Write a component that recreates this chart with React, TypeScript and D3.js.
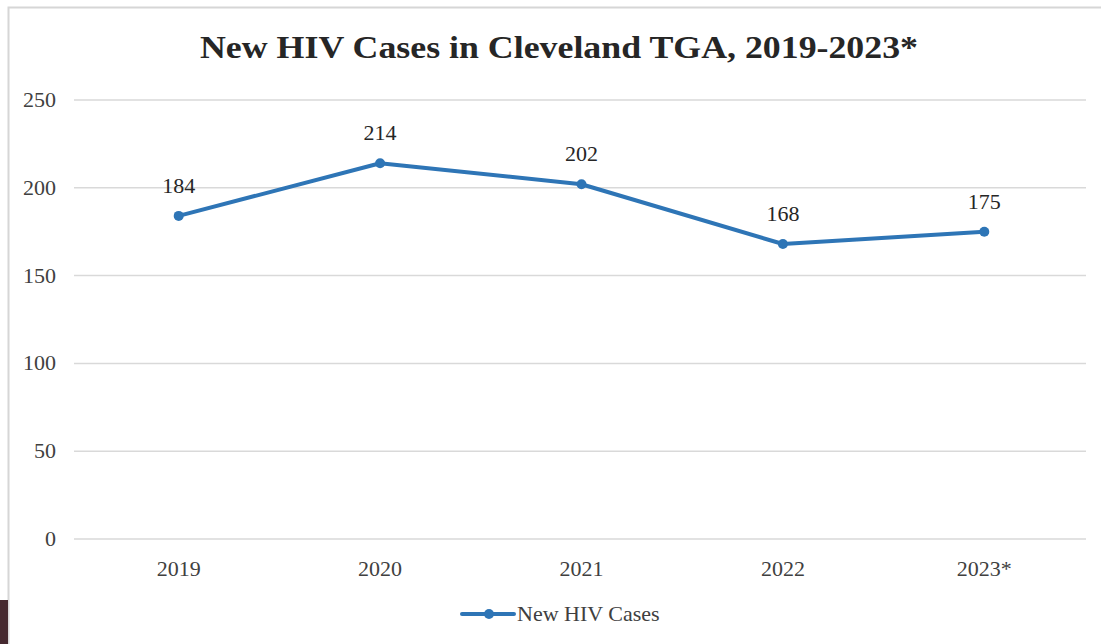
import { useEffect, useRef } from "react";
import * as d3 from "d3";

const years = ["2019", "2020", "2021", "2022", "2023*"];
const cases = [184, 214, 202, 168, 175];
const yTicks = [0, 50, 100, 150, 200, 250];

const W = 1101;
const H = 644;
const blue = "#2e75b6";
const serif = "'Liberation Serif', 'Times New Roman', serif";

function App() {
    const ref = useRef<SVGSVGElement>(null);

    useEffect(() => {
        const svg = d3.select(ref.current);
        svg.selectAll("*").remove();

        // background + box
        svg.append("rect").attr("width", W).attr("height", H).attr("fill", "#fff");
        svg.append("rect")
            .attr("x", 8.5).attr("y", 7.5)
            .attr("width", W + 10).attr("height", H + 10)
            .attr("fill", "#fff")
            .attr("stroke", "#d6d6d6").attr("stroke-width", 2);
        svg.append("rect").attr("x", 0).attr("y", 600).attr("width", 8).attr("height", 44).attr("fill", "#45292f");

        const x = d3.scaleBand().domain(years).range([78, 1085]);
        const y = d3.scaleLinear().domain([0, 250]).range([539, 100]);

        // title
        svg.append("text")
            .attr("x", 559).attr("y", 58)
            .attr("text-anchor", "middle")
            .attr("font-family", serif).attr("font-weight", "bold")
            .attr("font-size", 31).attr("fill", "#262626")
            .attr("textLength", 718).attr("lengthAdjust", "spacingAndGlyphs")
            .text("New HIV  Cases in Cleveland TGA, 2019-2023*");

        // grid
        svg.append("g").selectAll("line").data(yTicks).enter().append("line")
            .attr("x1", 74).attr("x2", 1086)
            .attr("y1", (d) => y(d)).attr("y2", (d) => y(d))
            .attr("stroke", "#d9d9d9").attr("stroke-width", 1.5);

        svg.append("g").selectAll("text").data(yTicks).enter().append("text")
            .attr("x", 56).attr("y", (d) => y(d) + 7)
            .attr("text-anchor", "end")
            .attr("font-family", serif).attr("font-size", 22).attr("fill", "#404040")
            .text((d) => d);

        // x labels
        svg.append("g").selectAll("text").data(years).enter().append("text")
            .attr("x", (d) => x(d)! + x.bandwidth() / 2).attr("y", 576)
            .attr("text-anchor", "middle")
            .attr("font-family", serif).attr("font-size", 22).attr("fill", "#404040")
            .text((d) => d);

        // line
        const pts = years.map((yr, i) => [x(yr)! + x.bandwidth() / 2, y(cases[i])] as [number, number]);
        svg.append("path")
            .attr("d", d3.line()(pts))
            .attr("fill", "none").attr("stroke", blue).attr("stroke-width", 4)
            .attr("stroke-linejoin", "round");
        svg.append("g").selectAll("circle").data(pts).enter().append("circle")
            .attr("cx", (d) => d[0]).attr("cy", (d) => d[1]).attr("r", 5)
            .attr("fill", blue);

        svg.append("g").selectAll("text").data(pts).enter().append("text")
            .attr("x", (d) => d[0]).attr("y", (d) => d[1] - 23)
            .attr("text-anchor", "middle")
            .attr("font-family", serif).attr("font-size", 22).attr("fill", "#262626")
            .text((d, i) => cases[i]);

        // legend
        const lg = svg.append("g").attr("transform", "translate(0,614)");
        lg.append("line").attr("x1", 462).attr("x2", 514).attr("y1", 0).attr("y2", 0)
            .attr("stroke", blue).attr("stroke-width", 4).attr("stroke-linecap", "round");
        lg.append("circle").attr("cx", 489).attr("cy", 0).attr("r", 5).attr("fill", blue);
        lg.append("text").attr("x", 517).attr("y", 7)
            .attr("font-family", serif).attr("font-size", 22).attr("fill", "#404040")
            .text("New HIV Cases");
    }, []);

    return (
        <svg ref={ref} width={W} height={H} style={{ position: "absolute", left: 0, top: 0 }} />
    );
}

export default App;
